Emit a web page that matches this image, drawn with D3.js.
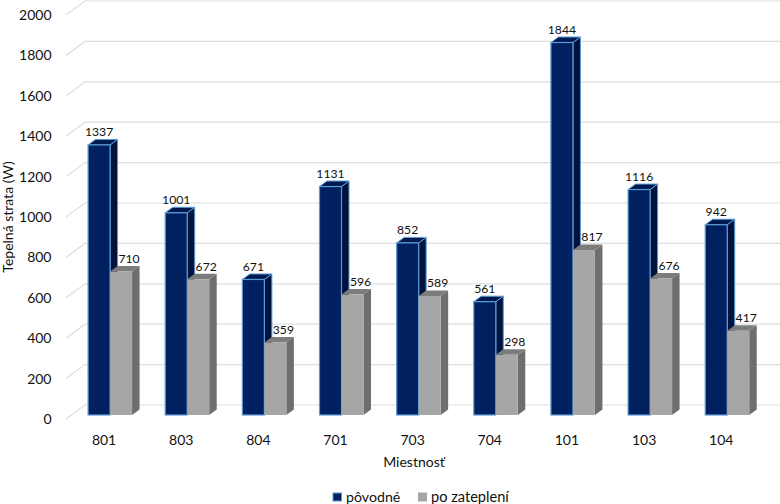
<!DOCTYPE html>
<html><head><meta charset="utf-8">
<script src="https://cdn.jsdelivr.net/npm/d3@7"></script>
<style>html,body{margin:0;padding:0;background:#fff}svg{display:block}text{font-family:Lato,"Open Sans",sans-serif;fill:#111}</style>
</head><body><svg id="c" width="780" height="504"></svg>
<script>
const categories = ["801","803","804","701","703","704","101","103","104"];
const povodne = [1337,1001,671,1131,852,561,1844,1116,942];
const poZatepleni = [710,672,359,596,589,298,817,676,417];
const seriesNames = ["pôvodné","po zateplení"];
const yTicks = [0,200,400,600,800,1000,1200,1400,1600,1800,2000];
const xTitle = "Miestnosť", yTitle = "Tepelná strata (W)";

const svg = d3.select("#c");
const y = d3.scaleLinear().domain([0,2000]).range([415,11]);
const x = d3.scaleBand().domain(categories).range([71.5,765.8]).paddingInner(0).paddingOuter(0);
const bw = 22;
const depthX = 7.5, depthY = 5.5;
const wallDX = 19, wallFrontDY = 4, wallBackDY = 10, wallX = 66;

// grid
const grid = svg.append("g").attr("fill","none").attr("stroke","#dedede").attr("stroke-width",1.2);
yTicks.forEach(t=>{
  const p = y(t);
  grid.append("path").attr("d",`M${wallX},${p+wallFrontDY}L${wallX+wallDX},${p-wallBackDY}L780,${p-wallBackDY}`);
});
// y labels
svg.append("g").selectAll("text").data(yTicks).join("text")
  .attr("x",51.5).attr("y",d=>y(d)+4).attr("dy","0.35em").attr("text-anchor","end")
  .attr("font-size",14).text(d=>d);
// x labels
svg.append("g").selectAll("text").data(categories).join("text")
  .attr("x",d=>x(d)+x.step()/2-6).attr("y",440).attr("dy","0.35em").attr("text-anchor","middle")
  .attr("font-size",14).text(d=>d);

function bar(g,cx,v,front,side,top,border){
  const ty=y(v), by=y(0), r=cx+bw;
  g.append("path").attr("fill",side).attr("d",`M${r},${ty}L${r+depthX},${ty-depthY}L${r+depthX},${by-depthY}L${r},${by}Z`).attr("stroke",border||"none").attr("stroke-width",1);
  g.append("path").attr("fill",top).attr("d",`M${cx},${ty}L${cx+depthX},${ty-depthY}L${r+depthX},${ty-depthY}L${r},${ty}Z`).attr("stroke",border||"none").attr("stroke-width",1);
  g.append("rect").attr("x",cx).attr("y",ty).attr("width",bw).attr("height",by-ty).attr("fill",front).attr("stroke",border||"none").attr("stroke-width",1.2);
}
const bars = svg.append("g");
categories.forEach((c,i)=>{
  const cx = x(c)+x.step()/2;
  bar(bars,cx-bw,povodne[i],"#002060","#00133f","#001a4f","#5b9bd5");
  bar(bars,cx,poZatepleni[i],"#a6a6a6","#6e6e6e","#7c7c7c",null);
});
// data labels
const labels = svg.append("g");
categories.forEach((c,i)=>{
  const cx = x(c)+x.step()/2;
  labels.append("text").attr("x",cx-bw/2).attr("y",y(povodne[i])-13).attr("dy","0.35em").attr("text-anchor","middle").attr("font-size",12.2).text(povodne[i]);
  labels.append("text").attr("x",cx+bw/2+8).attr("y",y(poZatepleni[i])-13).attr("dy","0.35em").attr("text-anchor","middle").attr("font-size",12.2).text(poZatepleni[i]);
});
// titles
svg.append("text").attr("x",414).attr("y",462).attr("dy","0.35em").attr("text-anchor","middle").attr("font-size",14).text(xTitle);
svg.append("text").attr("transform","translate(8,217) rotate(-90)").attr("dy","0.35em").attr("text-anchor","middle").attr("font-size",14).text(yTitle);
// legend
const lg = svg.append("g");
lg.append("rect").attr("x",333).attr("y",493).attr("width",8.5).attr("height",8).attr("fill","#002060").attr("stroke","#5b9bd5").attr("stroke-width",1);
lg.append("text").attr("x",346).attr("y",497).attr("dy","0.35em").attr("font-size",14.2).text(seriesNames[0]);
lg.append("rect").attr("x",418).attr("y",492.5).attr("width",9).attr("height",9).attr("fill","#a6a6a6");
lg.append("text").attr("x",431).attr("y",497).attr("dy","0.35em").attr("font-size",14.6).text(seriesNames[1]);
</script></body></html>
